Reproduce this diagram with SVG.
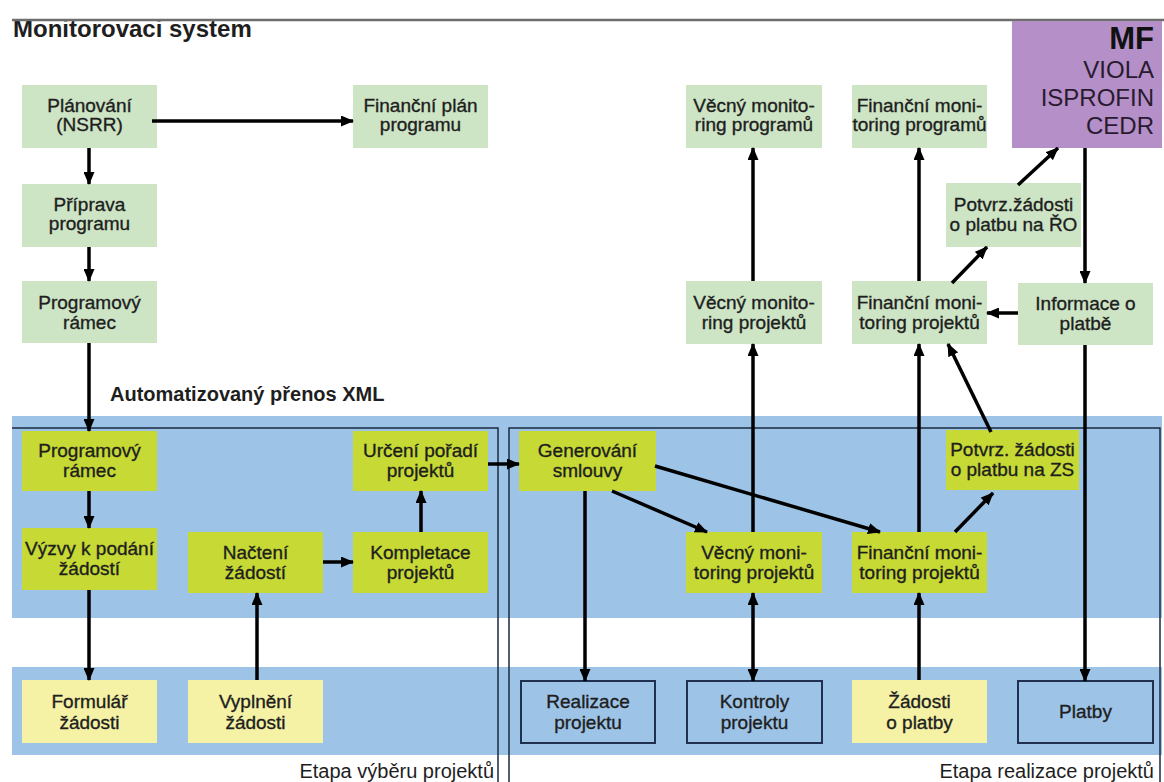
<svg xmlns="http://www.w3.org/2000/svg" width="1164" height="782" viewBox="0 0 1164 782">
<style>
text{font-family:"Liberation Sans",Arial,sans-serif;fill:#1e1e1e}
.t{font-size:19px;text-anchor:middle;stroke:#1e1e1e;stroke-width:0.35}
.lg{fill:#cde4c5}
.yg{fill:#c6d934}
.py{fill:#f5f2a5}
.ob{fill:#9dc3e6;stroke:#1f3050;stroke-width:2}
.band{fill:#9dc3e6}
.frame{fill:none;stroke:#1a2a40;stroke-width:1.5}
.c{fill:none;stroke:#000;stroke-width:3.5;marker-end:url(#ah)}
.mf{text-anchor:end;font-size:24px;fill:#2a1a30}
</style>
<defs>
<marker id="ah" markerUnits="userSpaceOnUse" markerWidth="13" markerHeight="11" refX="12" refY="5.5" orient="auto-start-reverse"><path d="M0,0 L13,5.5 L0,11 z" fill="#000"/></marker>
</defs>
<rect width="1164" height="782" fill="#fff"/>
<g id="bands">
<rect class="band" x="12" y="416" width="1150" height="202"/>
<rect class="band" x="12" y="667" width="1150" height="88"/>
<path class="frame" d="M12,428 H498 V782"/>
<path class="frame" d="M509,782 V428 H1160 V782"/>
</g>
<text x="13" y="37" style="font-size:24px;font-weight:bold">Monitorovaci system</text>
<line x1="12" y1="20" x2="1164" y2="20" stroke="#6e6e6e" stroke-width="2.5"/>
<text x="110" y="401" style="font-size:20px;font-weight:bold">Automatizovaný přenos XML</text>
<text x="494" y="778" style="font-size:20px;text-anchor:end">Etapa výběru projektů</text>
<text x="1154" y="778" style="font-size:20px;text-anchor:end">Etapa realizace projektů</text>
<g id="mf"><rect x="1012" y="21" width="150" height="127" fill="#b48fc8"/>
<text x="1154" y="49" style="font-size:31px;font-weight:bold;text-anchor:end;fill:#111">MF</text>
<text class="mf" x="1154" y="78">VIOLA</text>
<text class="mf" x="1154" y="106">ISPROFIN</text>
<text class="mf" x="1154" y="134">CEDR</text></g>
<g id="plan"><rect class="lg" x="22" y="85" width="135" height="63"/><text class="t" x="89.5" y="112">Plánování</text><text class="t" x="89.5" y="131">(NSRR)</text></g>
<g id="prip"><rect class="lg" x="22" y="184" width="135" height="63"/><text class="t" x="89.5" y="211">Příprava</text><text class="t" x="89.5" y="230">programu</text></g>
<g id="pr1"><rect class="lg" x="22" y="281" width="135" height="62"/><text class="t" x="89.5" y="309">Programový</text><text class="t" x="89.5" y="329">rámec</text></g>
<g id="fpp"><rect class="lg" x="353" y="85" width="135" height="63"/><text class="t" x="420.5" y="112">Finanční plán</text><text class="t" x="420.5" y="131">programu</text></g>
<g id="vmprog"><rect class="lg" x="686" y="85" width="136" height="63"/><text class="t" x="754" y="112">Věcný monito-</text><text class="t" x="754" y="131">ring programů</text></g>
<g id="fmprog"><rect class="lg" x="852" y="85" width="135" height="63"/><text class="t" x="919.5" y="112">Finanční moni-</text><text class="t" x="919.5" y="131">toring programů</text></g>
<g id="potro"><rect class="lg" x="946" y="183" width="135" height="64"/><text class="t" x="1013.5" y="211">Potvrz.žádosti</text><text class="t" x="1013.5" y="231">o platbu na ŘO</text></g>
<g id="vmproj1"><rect class="lg" x="686" y="281" width="136" height="63"/><text class="t" x="754" y="309">Věcný monito-</text><text class="t" x="754" y="329">ring projektů</text></g>
<g id="fmproj1"><rect class="lg" x="852" y="281" width="135" height="63"/><text class="t" x="919.5" y="309">Finanční moni-</text><text class="t" x="919.5" y="329">toring projektů</text></g>
<g id="info"><rect class="lg" x="1018" y="283" width="135" height="62"/><text class="t" x="1085.5" y="310">Informace o</text><text class="t" x="1085.5" y="330">platbě</text></g>
<g id="pr2"><rect class="yg" x="22" y="431" width="135" height="60"/><text class="t" x="89.5" y="457">Programový</text><text class="t" x="89.5" y="477">rámec</text></g>
<g id="urc"><rect class="yg" x="353" y="431" width="135" height="60"/><text class="t" x="420.5" y="457">Určení pořadí</text><text class="t" x="420.5" y="477">projektů</text></g>
<g id="gen"><rect class="yg" x="519" y="431" width="137" height="60"/><text class="t" x="587.5" y="457">Generování</text><text class="t" x="587.5" y="477">smlouvy</text></g>
<g id="potzs"><rect class="yg" x="946" y="430" width="133" height="60"/><text class="t" x="1012.5" y="456">Potvrz. žádosti</text><text class="t" x="1012.5" y="476">o platbu na ZS</text></g>
<g id="vyzvy"><rect class="yg" x="22" y="528" width="135" height="62"/><text class="t" x="89.5" y="555">Výzvy k podání</text><text class="t" x="89.5" y="575">žádostí</text></g>
<g id="nact"><rect class="yg" x="188" y="532" width="135" height="61"/><text class="t" x="255.5" y="559">Načtení</text><text class="t" x="255.5" y="579">žádostí</text></g>
<g id="komp"><rect class="yg" x="353" y="532" width="135" height="61"/><text class="t" x="420.5" y="559">Kompletace</text><text class="t" x="420.5" y="579">projektů</text></g>
<g id="vmproj2"><rect class="yg" x="686" y="532" width="136" height="61"/><text class="t" x="754" y="559">Věcný moni-</text><text class="t" x="754" y="579">toring projektů</text></g>
<g id="fmproj2"><rect class="yg" x="852" y="532" width="135" height="61"/><text class="t" x="919.5" y="559">Finanční moni-</text><text class="t" x="919.5" y="579">toring projektů</text></g>
<g id="form"><rect class="py" x="22" y="680" width="135" height="63"/><text class="t" x="89.5" y="708">Formulář</text><text class="t" x="89.5" y="729">žádosti</text></g>
<g id="vypl"><rect class="py" x="188" y="680" width="135" height="63"/><text class="t" x="255.5" y="708">Vyplnění</text><text class="t" x="255.5" y="729">žádosti</text></g>
<g id="zadp"><rect class="py" x="852" y="680" width="135" height="63"/><text class="t" x="919.5" y="708">Žádosti</text><text class="t" x="919.5" y="729">o platby</text></g>
<g id="real"><rect class="ob" x="521" y="681" width="134" height="62"/><text class="t" x="588" y="708">Realizace</text><text class="t" x="588" y="729">projektu</text></g>
<g id="kontr"><rect class="ob" x="687" y="681" width="135" height="62"/><text class="t" x="754.5" y="708">Kontroly</text><text class="t" x="754.5" y="729">projektu</text></g>
<g id="platby"><rect class="ob" x="1018" y="681" width="135" height="62"/><text class="t" x="1085.5" y="718">Platby</text></g>
<g id="connectors">
<path class="c" d="M152,121 H353"/>
<path class="c" d="M89,148 V184"/>
<path class="c" d="M89,247 V281"/>
<path class="c" d="M89,343 V431"/>
<path class="c" d="M89,491 V528"/>
<path class="c" d="M89,590 V680"/>
<path class="c" d="M257,680 V593"/>
<path class="c" d="M323,562 H353"/>
<path class="c" d="M421,532 V491"/>
<path class="c" d="M488,464 H519"/>
<path class="c" d="M585,491 V681"/>
<path class="c" d="M612,491 L707,532"/>
<path class="c" d="M655,466 L880,532"/>
<path class="c" d="M753,532 V344"/>
<path class="c" d="M753,281 V148"/>
<path class="c" d="M753,593 V681" style="marker-start:url(#ah)"/>
<path class="c" d="M919,532 V344"/>
<path class="c" d="M919,281 V148"/>
<path class="c" d="M919,680 V593"/>
<path class="c" d="M955,532 L993,493"/>
<path class="c" d="M991,432 L948,344"/>
<path class="c" d="M952,283 L987,247"/>
<path class="c" d="M1018,185 L1058,148"/>
<path class="c" d="M1085,148 V283"/>
<path class="c" d="M1018,313 H987"/>
<path class="c" d="M1085,345 V681"/>
</g>
</svg>
